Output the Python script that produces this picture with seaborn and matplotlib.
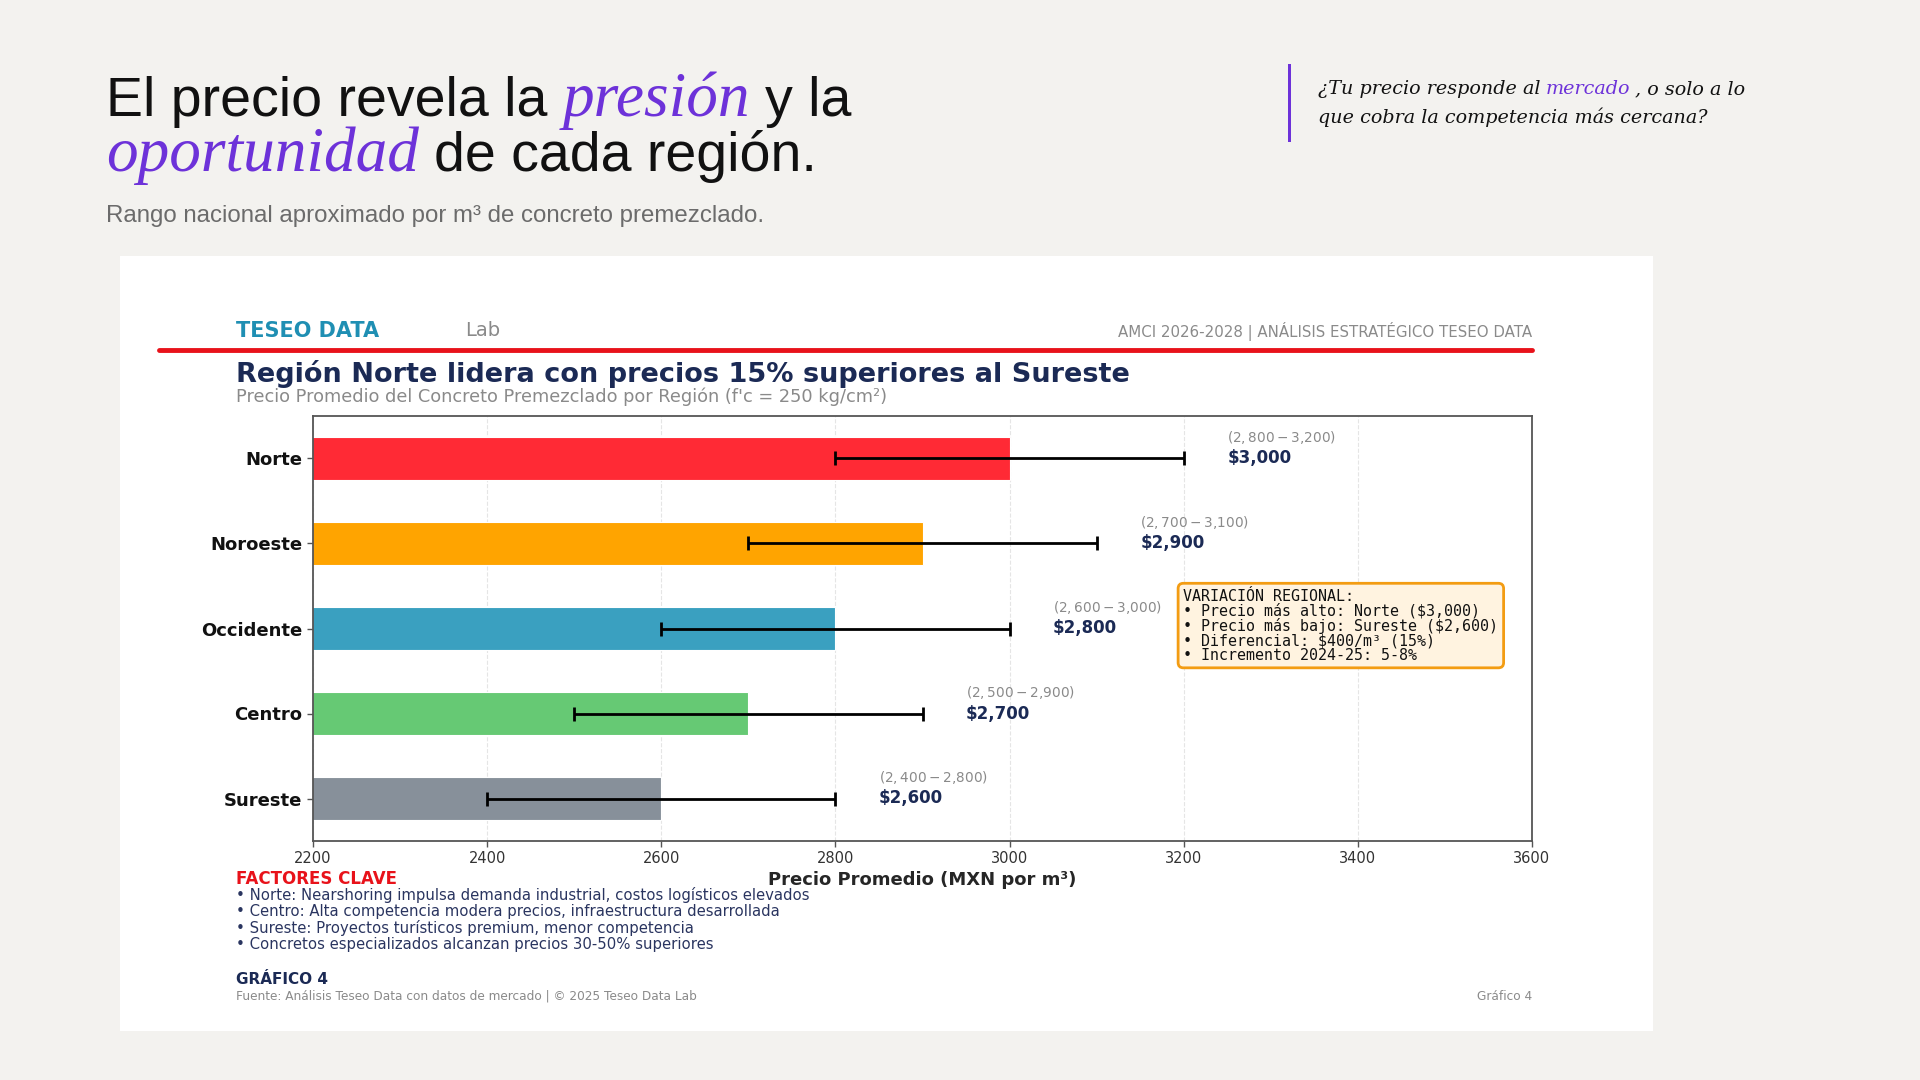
import numpy as np
import pandas as pd
import seaborn as sns
import matplotlib
matplotlib.use("Agg")
import matplotlib.pyplot as plt
from matplotlib.patches import Rectangle

# data
regions = ["Norte", "Noroeste", "Occidente", "Centro", "Sureste"]
prices = [3000, 2900, 2800, 2700, 2600]
price_low = [2800, 2700, 2600, 2500, 2400]
price_high = [3200, 3100, 3000, 2900, 2800]
bar_colors = ["#ff2a35", "#ffa400", "#3aa0c0", "#66c974", "#87909a"]
x_ticks = [2200, 2400, 2600, 2800, 3000, 3200, 3400, 3600]

factores = [
    "• Norte: Nearshoring impulsa demanda industrial, costos logísticos elevados",
    "• Centro: Alta competencia modera precios, infraestructura desarrollada",
    "• Sureste: Proyectos turísticos premium, menor competencia",
    "• Concretos especializados alcanzan precios 30-50% superiores",
]
box_lines = [
    "VARIACIÓN REGIONAL:",
    "• Precio más alto: Norte (\\$3,000)",
    "• Precio más bajo: Sureste (\\$2,600)",
    "• Diferencial: \\$400/m³ (15%)",
    "• Incremento 2024-25: 5-8%",
]

PURPLE = "#6d32d9"
NAVY = "#1b2a55"
W, H = 1920, 1080

sns.set_style("white")
plt.rcParams["font.family"] = ["DejaVu Sans"]


def fx(x):
    return x / W


def fy(y):
    return 1 - y / H


fig = plt.figure(figsize=(19.2, 10.8), dpi=100, facecolor="#f3f2ef")
renderer = fig.canvas.get_renderer()


def put_runs(x, y, runs, gap):
    # place text pieces one after another on a common baseline
    for txt, kw in runs:
        t = fig.text(fx(x), fy(y), txt, va="baseline", ha="left", **kw)
        bb = t.get_window_extent(renderer)
        x += bb.width + gap


# slide heading
sans = dict(family="Liberation Sans", fontsize=40, color="#111111")
serif_it = dict(family="Liberation Serif", style="italic", fontsize=45.5, color=PURPLE)
put_runs(106, 116, [("El precio revela la", sans), ("presión", serif_it), ("y la", sans)], 15)
put_runs(106, 171, [("oportunidad", serif_it), ("de cada región.", sans)], 15)
fig.text(fx(106), fy(216), "Rango nacional aproximado por m³ de concreto premezclado.",
         family="Liberation Sans", fontsize=17.3, color="#6b6b6b", va="center")

# quote on the right
fig.add_artist(Rectangle((fx(1288), fy(142)), 3 / W, (142 - 64) / H,
                         transform=fig.transFigure, facecolor=PURPLE, edgecolor="none"))
q = dict(family="DejaVu Serif", style="italic", fontsize=13.8, color="#111111")
qp = dict(q, color=PURPLE)
put_runs(1318, 94, [("¿Tu precio responde al", q), ("mercado", qp), (", o solo a lo", q)], 5)
fig.text(fx(1318), fy(123), "que cobra la competencia más cercana?", va="baseline", **q)

# white panel holding the chart
fig.add_artist(Rectangle((fx(120), fy(1031)), (1653 - 120) / W, (1031 - 256) / H,
                         transform=fig.transFigure, facecolor="white", edgecolor="none", zorder=0))

fig.text(fx(236), fy(331), "TESEO DATA", fontsize=15, fontweight="bold", color="#1f8fb3", va="center")
fig.text(fx(465), fy(331), "Lab", fontsize=14, color="#8a8a8a", va="center")
fig.text(fx(1532), fy(332), "AMCI 2026-2028 | ANÁLISIS ESTRATÉGICO TESEO DATA",
         fontsize=10.8, color="#8a8a8a", va="center", ha="right")
fig.add_artist(plt.Line2D([fx(159), fx(1532)], [fy(350), fy(350)], color="#e8121a",
                          lw=3.5, transform=fig.transFigure))
fig.text(fx(236), fy(374), "Región Norte lidera con precios 15% superiores al Sureste",
         fontsize=19.5, fontweight="bold", color=NAVY, va="center")
fig.text(fx(236), fy(397), "Precio Promedio del Concreto Premezclado por Región (f'c = 250 kg/cm²)",
         fontsize=12.8, color="#8a8a8a", va="center")

# main bar chart
ax = fig.add_axes([fx(313), fy(841), (1532 - 313) / W, (841 - 416) / H])
df = pd.DataFrame({"region": regions, "precio": prices})
sns.barplot(data=df, x="precio", y="region", hue="region", palette=bar_colors, saturation=1,
            width=0.5, legend=False, ax=ax, edgecolor="white", linewidth=0.8, zorder=2)
ypos = np.arange(len(regions))
ax.errorbar(prices, ypos,
            xerr=[np.subtract(prices, price_low), np.subtract(price_high, prices)],
            fmt="none", ecolor="black", elinewidth=2, capsize=5, capthick=2, zorder=3)

for i in range(len(regions)):
    ax.text(price_high[i] + 50, i - 0.25, f"(${price_low[i]:,} - ${price_high[i]:,})",
            fontsize=9.8, color="#8a8a8a", va="center")
    ax.text(price_high[i] + 50, i, f"\\${prices[i]:,}", fontsize=12,
            fontweight="bold", color=NAVY, va="center")

ax.text(0.714, 0.594, "\n".join(box_lines), transform=ax.transAxes, va="top", ha="left",
        family="DejaVu Sans Mono", fontsize=10.8, linespacing=0.95, color="#111111",
        bbox=dict(boxstyle="round,pad=0.35", facecolor="#fff3e0", edgecolor="#f39c12", linewidth=2))

ax.set_xlim(2200, 3600)
ax.set_ylim(4.5, -0.5)
ax.set_xticks(x_ticks)
ax.set_xticklabels([str(v) for v in x_ticks], fontsize=10.5, color="#333333")
ax.set_yticks(ypos)
ax.set_yticklabels(regions, fontsize=13, fontweight="bold", color="#111111")
ax.set_ylabel("")
ax.set_xlabel("Precio Promedio (MXN por m³)", fontsize=13, fontweight="bold", labelpad=3)
ax.grid(axis="x", linestyle="--", color="#cccccc", alpha=0.5, lw=0.8)
ax.set_axisbelow(True)
ax.tick_params(length=4, width=1, color="#555555", left=True, bottom=True)
for s in ax.spines.values():
    s.set_color("#555555")
    s.set_linewidth(1.3)

# notes below the chart
fig.text(fx(236), fy(879), "FACTORES CLAVE", fontsize=12, fontweight="bold", color="#e8121a", va="center")
for k, line in enumerate(factores):
    fig.text(fx(236), fy(895 + 16.5 * k), line, fontsize=10.7, color="#2a3560", va="center")
fig.text(fx(236), fy(980), "GRÁFICO 4", fontsize=11, fontweight="bold", color=NAVY, va="center")
fig.text(fx(236), fy(996), "Fuente: Análisis Teseo Data con datos de mercado | © 2025 Teseo Data Lab",
         fontsize=8.7, color="#8a8a8a", va="center")
fig.text(fx(1532), fy(996), "Gráfico 4", fontsize=8.7, color="#8a8a8a", va="center", ha="right")

fig.savefig("out.png", dpi=100, facecolor=fig.get_facecolor())
